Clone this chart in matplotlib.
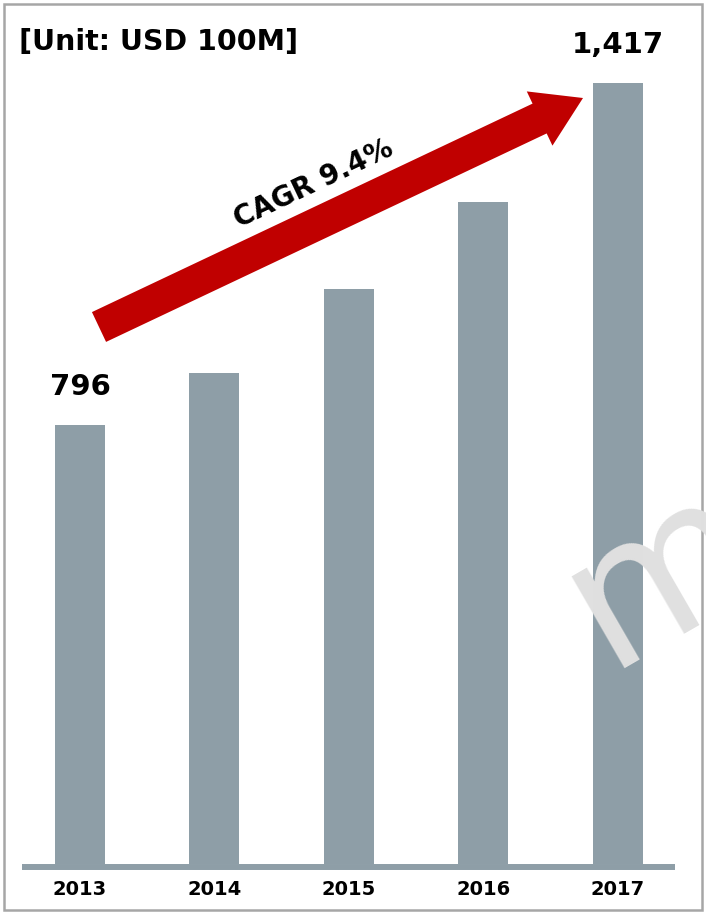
import matplotlib
matplotlib.use('Agg')
import matplotlib.pyplot as plt
import matplotlib.patches as patches
import numpy as np

# data
years = ['2013', '2014', '2015', '2016', '2017']
values = [796, 892, 1043, 1202, 1417]
shown_labels = {0: '796', 4: '1,417'}
unit_text = '[Unit: USD 100M]'
cagr_text = 'CAGR 9.4%'

bar_color = '#8E9EA7'
red = '#C00000'

W, H = 706, 913
fig = plt.figure(figsize=(W / 100, H / 100), dpi=100)
plt.rcParams['font.family'] = ['DejaVu Sans']

# main bar axes (pixel placement)
k = 0.551  # px per unit
ax_l, ax_r = 22, 675
ax_bot, ax_top = 869, 40
ax = fig.add_axes([ax_l / W, (H - ax_bot) / H, (ax_r - ax_l) / W, (ax_bot - ax_top) / H])
ind = np.arange(len(years))
ax.bar(ind, values, 0.372, color=bar_color, zorder=2)
ax.axhline(-2.5 / k, color=bar_color, linewidth=4.3, zorder=3, clip_on=False,
           solid_capstyle='butt')
ax.set_xlim(-0.431, 4.424)
ax.set_ylim(-5 / k, (864 - ax_top) / k)
ax.axis('off')

for i, lab in shown_labels.items():
    ax.annotate(lab, xy=(i, values[i]), xytext=(0, 27.5), textcoords='offset points',
                ha='center', va='center', fontsize=21, fontweight='bold')

for i, y in enumerate(years):
    ax.annotate(y, xy=(i, 0), xytext=(0, -18.4), textcoords='offset points',
                ha='center', va='center', fontsize=14, fontweight='bold')

# overlay in pixel coords for decorations
ov = fig.add_axes([0, 0, 1, 1], facecolor='none')
ov.set_xlim(0, W)
ov.set_ylim(H, 0)
ov.axis('off')

ov.add_patch(patches.Rectangle((4, 4), W - 8, H - 7, fill=False, edgecolor='#A6A6A6', linewidth=1.8))
ov.text(19, 42, unit_text, fontsize=20.5, fontweight='bold', ha='left', va='center')

# CAGR arrow
tail = np.array([99.0, 327.0])
tip = np.array([583.0, 98.0])
d = tip - tail
ov.add_patch(patches.FancyArrow(tail[0], tail[1], d[0], d[1], width=33, head_width=60,
                                head_length=48, length_includes_head=True,
                                color=red, linewidth=0, zorder=4))
ang = np.degrees(np.arctan2(-d[1], d[0]))
ov.text(314, 184, cagr_text, rotation=ang, rotation_mode='anchor', fontsize=20,
        fontweight='bold', ha='center', va='center', zorder=5)

# watermark
ov.text(607, 668, 'me', rotation=30, rotation_mode='anchor', fontsize=140,
        color='#E0E0E0', ha='left', va='baseline', zorder=6, clip_on=True)

fig.savefig('out.png', dpi=100)
